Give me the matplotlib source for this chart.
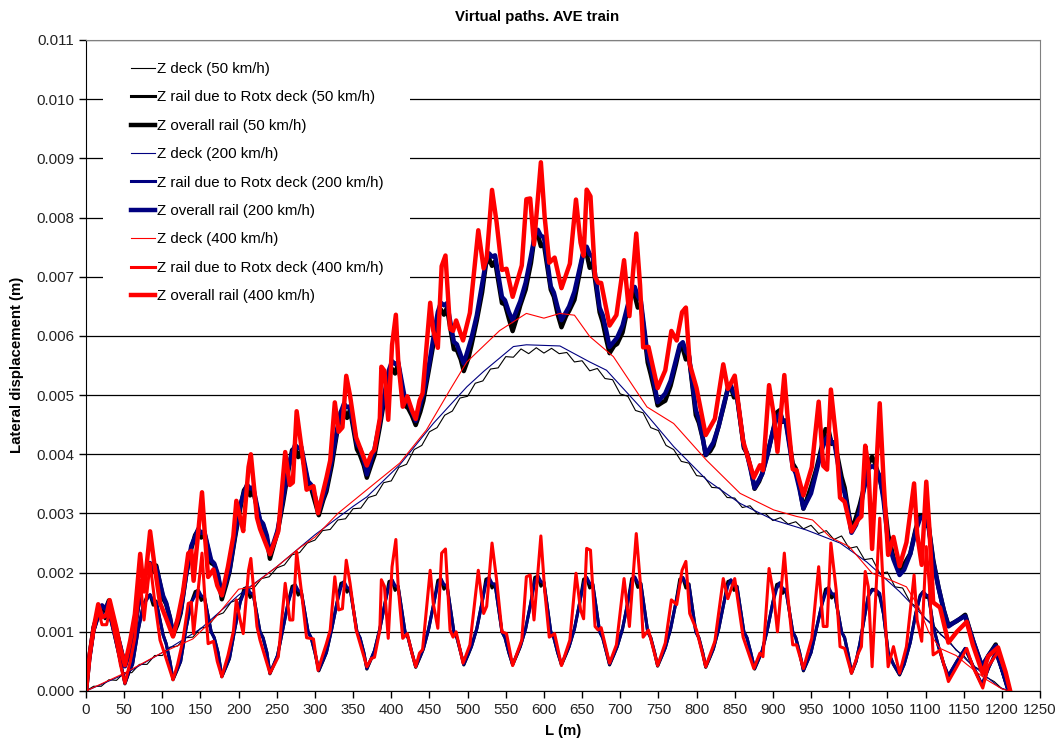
import numpy as np
import matplotlib.pyplot as plt
from matplotlib.patches import Rectangle

plt.rcParams['font.family'] = ['Liberation Sans', 'DejaVu Sans']

# all displacement values below are read in mm, plotted in m

# deck (thin lines)
deck_50_x = list(range(0, 1220, 10))
deck_50 = [0, 0.08, 0.08, 0.19, 0.18, 0.31, 0.31, 0.45, 0.45, 0.60,
           0.60, 0.74, 0.76, 0.90, 0.91, 1.06, 1.09, 1.27, 1.32, 1.50,
           1.55, 1.71, 1.74, 1.90, 1.93, 2.08, 2.13, 2.30, 2.34, 2.50,
           2.55, 2.71, 2.73, 2.89, 2.91, 3.08, 3.09, 3.27, 3.31, 3.52,
           3.55, 3.78, 3.83, 4.08, 4.15, 4.38, 4.45, 4.66, 4.73, 4.95,
           4.98, 5.20, 5.24, 5.44, 5.46, 5.65, 5.64, 5.78, 5.70, 5.80,
           5.71, 5.79, 5.70, 5.72, 5.56, 5.58, 5.41, 5.45, 5.28, 5.26,
           5.02, 4.98, 4.74, 4.70, 4.45, 4.40, 4.15, 4.08, 3.88, 3.85,
           3.64, 3.62, 3.44, 3.43, 3.27, 3.26, 3.10, 3.13, 2.99, 3.00,
           2.88, 2.93, 2.82, 2.86, 2.74, 2.80, 2.66, 2.71, 2.56, 2.62,
           2.41, 2.44, 2.22, 2.24, 1.99, 2.01, 1.76, 1.74, 1.50, 1.40,
           1.22, 1.12, 0.95, 0.86, 0.69, 0.60, 0.44, 0.37, 0.23, 0.16,
           0.04, 0]

deck_200_x = [0, 50, 100, 150, 200, 250, 300, 350, 368, 411, 455, 499, 521, 560,
              577, 621, 660, 682, 726, 770, 813, 857, 901, 944, 988, 1023, 1066,
              1110, 1154, 1197, 1210]
deck_200 = [0, 0.28, 0.65, 1.05, 1.62, 2.10, 2.64, 3.12, 3.28, 3.82, 4.52, 5.14, 5.40,
            5.82, 5.85, 5.83, 5.56, 5.42, 4.80, 4.13, 3.57, 3.17, 2.89, 2.72, 2.50,
            2.18, 1.68, 1.09, 0.52, 0.06, 0]

deck_400_x = [0, 50, 100, 140, 170, 200, 215, 250, 280, 300, 330, 368, 411, 446, 477,
              499, 542, 577, 600, 621, 640, 660, 691, 735, 770, 813, 857, 901, 931,
              952, 975, 1000, 1030, 1053, 1075, 1091, 1104, 1119, 1140, 1154, 1180,
              1201, 1211]
deck_400 = [0, 0.30, 0.65, 0.88, 1.25, 1.72, 1.75, 2.10, 2.42, 2.60, 3.00, 3.40, 3.85,
            4.41, 5.09, 5.56, 6.09, 6.38, 6.30, 6.38, 6.35, 5.99, 5.65, 4.80, 4.52,
            3.90, 3.34, 3.06, 2.95, 2.89, 2.60, 2.44, 1.99, 1.88, 1.76, 1.42, 1.00,
            0.72, 0.60, 0.45, 0.19, 0.03, 0]

# rail displacement due to deck rotation (50 and 200 km/h share positions)
rotx_x = [0, 4, 10, 16, 21, 25, 30, 38, 45,
          51, 57, 61, 68, 75, 80, 84, 88, 92, 101, 105, 110,
          114, 120, 124, 131, 138, 143, 147, 151, 155, 164, 168, 173,
          178, 184, 188, 195, 202, 207, 211, 215, 219, 228, 232, 237,
          241, 247, 251, 258, 265, 270, 274, 278, 282, 291, 295, 300,
          305, 311, 315, 322, 329, 334, 338, 342, 346, 355, 359, 364,
          368, 374, 378, 385, 392, 397, 401, 405, 409, 418, 422, 427,
          432, 438, 442, 449, 456, 461, 465, 469, 473, 482, 486, 491,
          495, 501, 505, 512, 519, 524, 528, 532, 536, 545, 549, 554,
          559, 565, 569, 576, 583, 588, 592, 596, 600, 609, 613, 618,
          623, 629, 633, 640, 647, 652, 656, 660, 664, 673, 677, 682,
          686, 692, 696, 703, 710, 715, 719, 723, 727, 736, 740, 745,
          749, 755, 759, 766, 773, 778, 782, 786, 790, 799, 803, 808,
          812, 818, 822, 829, 836, 841, 845, 849, 853, 862, 866, 871,
          876, 882, 886, 893, 900, 905, 909, 913, 917, 926, 930, 935,
          940, 946, 950, 957, 964, 969, 973, 977, 981, 990, 994, 999,
          1003, 1009, 1014, 1020, 1025, 1030, 1034, 1040, 1045, 1051, 1058,
          1066, 1072, 1080, 1087, 1093, 1097, 1101, 1104, 1110, 1117, 1124,
          1130, 1141, 1152, 1163, 1174, 1183, 1192, 1200, 1209]

rotx_50 = [0, 0.5, 1.0, 1.24, 1.32, 1.22, 1.34, 0.9, 0.5,
           0.12, 0.34, 0.45, 1.0, 1.45, 1.6, 1.62, 1.45, 1.52, 0.95, 0.8, 0.5,
           0.19, 0.37, 0.5, 1.05, 1.5, 1.68, 1.7, 1.53, 1.6, 1.0, 0.9, 0.65,
           0.24, 0.42, 0.55, 1.05, 1.5, 1.73, 1.75, 1.58, 1.65, 1.0, 0.9, 0.65,
           0.29, 0.47, 0.6, 1.05, 1.5, 1.77, 1.79, 1.62, 1.69, 1.0, 0.9, 0.65,
           0.34, 0.52, 0.65, 1.05, 1.5, 1.82, 1.84, 1.67, 1.74, 1.0, 0.9, 0.65,
           0.37, 0.55, 0.68, 1.05, 1.5, 1.85, 1.87, 1.7, 1.77, 1.0, 0.9, 0.65,
           0.4, 0.58, 0.71, 1.05, 1.5, 1.87, 1.89, 1.72, 1.79, 1.0, 0.9, 0.65,
           0.44, 0.62, 0.75, 1.05, 1.5, 1.89, 1.91, 1.74, 1.81, 1.0, 0.9, 0.65,
           0.44, 0.62, 0.75, 1.05, 1.5, 1.92, 1.94, 1.77, 1.84, 1.0, 0.9, 0.65,
           0.44, 0.62, 0.75, 1.05, 1.5, 1.89, 1.91, 1.74, 1.81, 1.0, 0.9, 0.65,
           0.44, 0.62, 0.75, 1.05, 1.5, 1.9, 1.92, 1.75, 1.82, 1.0, 0.9, 0.65,
           0.42, 0.6, 0.73, 1.05, 1.5, 1.89, 1.91, 1.74, 1.81, 1.0, 0.9, 0.65,
           0.4, 0.58, 0.71, 1.05, 1.5, 1.85, 1.87, 1.7, 1.77, 1.0, 0.9, 0.65,
           0.37, 0.55, 0.68, 1.05, 1.5, 1.8, 1.82, 1.65, 1.72, 1.0, 0.9, 0.65,
           0.34, 0.52, 0.65, 1.05, 1.45, 1.72, 1.74, 1.57, 1.64, 1.0, 0.9, 0.6,
           0.3, 0.5, 0.8, 1.25, 1.6, 1.72, 1.7, 1.6, 1.3, 0.66, 0.45,
           0.27, 0.45, 0.82, 1.3, 1.62, 1.68, 1.58, 1.62, 1.1, 0.75, 0.45,
           0.25, 0.5, 0.72, 0.4, 0.1, 0.4, 0.65, 0.35, 0.0]

rotx_200 = [0, 0.5, 1.0, 1.25, 1.33, 1.25, 1.33, 0.9, 0.5,
            0.13, 0.35, 0.45, 1.0, 1.45, 1.55, 1.63, 1.52, 1.5, 0.95, 0.8, 0.5,
            0.2, 0.38, 0.5, 1.05, 1.5, 1.61, 1.71, 1.61, 1.59, 1.0, 0.9, 0.65,
            0.25, 0.43, 0.55, 1.05, 1.5, 1.66, 1.76, 1.66, 1.64, 1.0, 0.9, 0.65,
            0.3, 0.48, 0.6, 1.05, 1.5, 1.7, 1.8, 1.7, 1.68, 1.0, 0.9, 0.65,
            0.35, 0.53, 0.65, 1.05, 1.5, 1.75, 1.85, 1.75, 1.73, 1.0, 0.9, 0.65,
            0.38, 0.56, 0.68, 1.05, 1.5, 1.78, 1.88, 1.78, 1.76, 1.0, 0.9, 0.65,
            0.41, 0.59, 0.71, 1.05, 1.5, 1.8, 1.9, 1.8, 1.78, 1.0, 0.9, 0.65,
            0.45, 0.63, 0.75, 1.05, 1.5, 1.82, 1.92, 1.82, 1.8, 1.0, 0.9, 0.65,
            0.45, 0.63, 0.75, 1.05, 1.5, 1.85, 1.95, 1.85, 1.83, 1.0, 0.9, 0.65,
            0.45, 0.63, 0.75, 1.05, 1.5, 1.82, 1.92, 1.82, 1.8, 1.0, 0.9, 0.65,
            0.45, 0.63, 0.75, 1.05, 1.5, 1.83, 1.93, 1.83, 1.81, 1.0, 0.9, 0.65,
            0.43, 0.61, 0.73, 1.05, 1.5, 1.82, 1.92, 1.82, 1.8, 1.0, 0.9, 0.65,
            0.41, 0.59, 0.71, 1.05, 1.5, 1.78, 1.88, 1.78, 1.76, 1.0, 0.9, 0.65,
            0.38, 0.56, 0.68, 1.05, 1.5, 1.73, 1.83, 1.73, 1.71, 1.0, 0.9, 0.65,
            0.35, 0.53, 0.65, 1.05, 1.45, 1.65, 1.75, 1.65, 1.63, 1.0, 0.9, 0.6,
            0.31, 0.5, 0.8, 1.25, 1.6, 1.7, 1.72, 1.65, 1.3, 0.66, 0.45,
            0.28, 0.45, 0.82, 1.3, 1.6, 1.68, 1.62, 1.6, 1.1, 0.75, 0.45,
            0.26, 0.5, 0.72, 0.4, 0.11, 0.4, 0.65, 0.35, 0.0]

rotx_400_x = [0, 5, 10, 16, 21, 27, 31, 40, 45, 51,
              58, 64, 71, 76, 84, 90, 97, 105, 114, 120,
              127, 134, 138, 141, 152, 156, 160, 167, 172, 178,
              186, 193, 197, 202, 206, 213, 216, 224, 228, 234,
              241, 247, 252, 261, 267, 271, 276, 283, 289, 298,
              304, 310, 315, 320, 326, 331, 336, 341, 346, 354,
              359, 368, 374, 378, 385, 387, 391, 396, 401, 406,
              409, 415, 421, 427, 432, 437, 441, 451, 455, 461,
              466, 471, 477, 481, 485, 494, 503, 514, 521, 525,
              532, 538, 545, 551, 559, 571, 577, 582, 587, 596,
              601, 607, 614, 623, 634, 642, 648, 652, 656, 661,
              667, 671, 675, 686, 695, 705, 712, 721, 726, 730,
              737, 749, 759, 767, 774, 781, 786, 791, 800, 812,
              824, 835, 841, 850, 861, 875, 883, 887, 895, 901,
              906, 915, 919, 926, 931, 940, 951, 960, 966, 971,
              976, 983, 988, 994, 1003, 1012, 1016, 1021, 1025, 1030,
              1040, 1045, 1051, 1058, 1066, 1075, 1085, 1089, 1095, 1101,
              1105, 1110, 1119, 1130, 1141, 1154, 1162, 1175, 1182, 1195,
              1205, 1211]
rotx_400 = [0, 0.6, 1.0, 1.37, 1.12, 1.12, 1.35, 0.81, 0.45, 0.13,
            0.5, 0.9, 1.87, 1.2, 2.16, 1.52, 0.86, 0.55, 0.19, 0.45,
            0.86, 1.48, 1.5, 0.97, 2.33, 1.52, 0.8, 0.84, 0.5, 0.24,
            0.6, 1.0, 1.54, 1.2, 0.97, 2.04, 2.24, 1.09, 0.86, 0.6,
            0.3, 0.45, 0.58, 1.82, 1.2, 1.2, 2.35, 1.6, 0.9, 0.88,
            0.35, 0.6, 0.8, 1.03, 1.93, 1.37, 1.39, 2.21, 1.82, 1.03,
            0.81, 0.41, 0.55, 0.57, 1.03, 1.88, 1.77, 0.89, 2.1, 2.56,
            1.77, 0.89, 0.97, 0.64, 0.41, 0.64, 0.7, 2.04, 1.48, 1.06,
            2.33, 2.4, 1.03, 0.91, 1.0, 0.47, 0.78, 2.04, 1.31, 1.43,
            2.5, 1.88, 1.0, 0.97, 0.43, 0.86, 1.93, 1.96, 1.2, 2.62,
            1.7, 0.91, 0.97, 0.43, 0.86, 1.99, 1.37, 1.22, 2.41, 2.38,
            1.09, 1.03, 1.07, 0.47, 0.78, 1.9, 1.09, 2.66, 1.88, 0.91,
            1.03, 0.43, 0.81, 1.54, 1.46, 2.04, 2.19, 1.31, 1.03, 0.41,
            0.84, 1.9, 1.56, 1.9, 0.91, 0.38, 0.64, 0.58, 2.07, 1.62,
            1.0, 2.33, 1.68, 0.78, 0.78, 0.38, 0.89, 2.1, 1.09, 1.09,
            2.5, 1.7, 0.75, 0.72, 0.3, 0.64, 0.75, 2.02, 1.76, 0.41,
            2.92, 1.65, 0.41, 0.75, 0.3, 0.75, 1.96, 1.2, 0.84, 2.44,
            1.78, 0.61, 0.69, 0.16, 0.41, 0.72, 0.41, 0.05, 0.41, 0.66,
            0.3, 0]

labels = [
    "Z deck (50 km/h)", "Z rail due to Rotx deck (50 km/h)", "Z overall rail (50 km/h)",
    "Z deck (200 km/h)", "Z rail due to Rotx deck (200 km/h)", "Z overall rail (200 km/h)",
    "Z deck (400 km/h)", "Z rail due to Rotx deck (400 km/h)", "Z overall rail (400 km/h)",
]


def overall(rx, rz, dx, dz):
    # overall rail = deck displacement + rotation contribution
    rx = np.asarray(rx, float)
    return rx, np.asarray(rz) + np.interp(rx, dx, dz)


fig = plt.figure(figsize=(10.61, 7.42), dpi=100)
ax = fig.add_axes([86 / 1061, 1 - 691 / 742, 954 / 1061, 651 / 742])

series = [
    (deck_50_x, deck_50, "black", 0.8),
    (rotx_x, rotx_50, "black", 2.2),
    (*overall(rotx_x, rotx_50, deck_50_x, deck_50), "black", 3.2),
    (deck_200_x, deck_200, "#000080", 0.8),
    (rotx_x, rotx_200, "#000080", 2.2),
    (*overall(rotx_x, rotx_200, deck_200_x, deck_200), "#000080", 3.2),
    (deck_400_x, deck_400, "#ff0000", 0.8),
    (rotx_400_x, rotx_400, "#ff0000", 2.2),
    (*overall(rotx_400_x, rotx_400, deck_400_x, deck_400), "#ff0000", 3.2),
]

handles = []
for (x, z, col, lw), lab in zip(series, labels):
    h, = ax.plot(x, np.asarray(z) * 1e-3, color=col, lw=lw, label=lab,
                 solid_joinstyle="round", zorder=2)
    handles.append(h)

ax.set_xlim(0, 1250)
ax.set_ylim(0, 0.011)
ax.set_xticks(np.arange(0, 1251, 50))
ax.set_yticks(np.arange(0, 0.0111, 0.001))
ax.yaxis.set_major_formatter(plt.FuncFormatter(lambda v, p: f"{v:.3f}"))
ax.tick_params(direction="out", length=5, width=1, labelsize=10.8,
               labelcolor="#222222")

ax.set_axisbelow(True)
ax.yaxis.grid(True, color="black", lw=0.9)
for s in ("top", "right"):
    ax.spines[s].set_color("#808080")
for s in ("left", "bottom"):
    ax.spines[s].set_color("black")

# white legend area hiding the grid lines
ax.add_patch(Rectangle((17 / 954, 376 / 651), 307 / 954, 270 / 651,
                       transform=ax.transAxes, facecolor="white",
                       edgecolor="none", zorder=1))
ax.legend(handles=handles, loc="upper left",
          bbox_to_anchor=(45 / 954, 629 / 651), frameon=False,
          fontsize=10.8, handlelength=1.6, handletextpad=0.15,
          labelspacing=0.96, borderpad=0, borderaxespad=0)

fig.text(537 / 1061, 1 - 17.5 / 742, "Virtual paths. AVE train",
         ha="center", va="center", fontsize=10.8, fontweight="bold")
fig.text(563 / 1061, 1 - 731 / 742, "L (m)", ha="center", va="center",
         fontsize=10.8, fontweight="bold")
fig.text(17 / 1061, 1 - 365 / 742, "Lateral displacement (m)", ha="center",
         va="center", rotation=90, fontsize=10.8, fontweight="bold")

fig.savefig("out.png", dpi=100)
